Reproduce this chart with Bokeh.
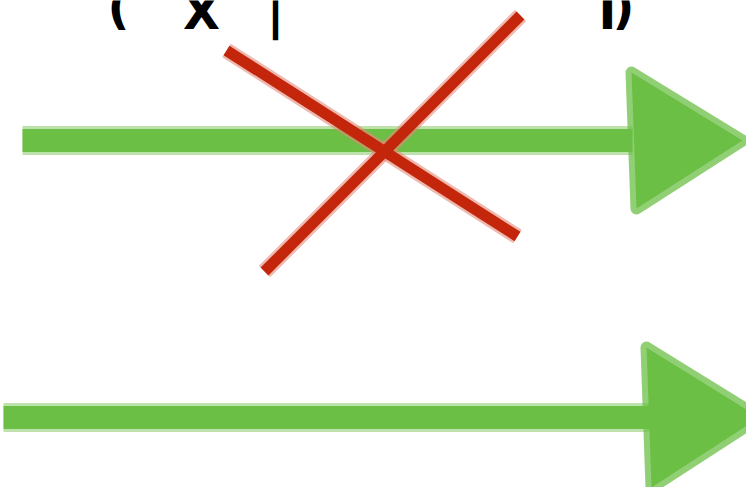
from bokeh.plotting import figure
from bokeh.models import Range1d, ColumnDataSource
from bokeh.core.properties import value
from bokeh.embed import file_html
from bokeh.resources import INLINE

# ---- data (in picture pixels) ----
arrow_x0 = [22, 3]          # shaft start
arrow_x1 = [632, 650]       # shaft end (under the head)
arrow_y = [140, 417]        # shaft height
head_left = [629, 644]      # back edge of arrowhead
head_tip = [745, 762]       # tip of arrowhead
head_half = [72, 74]        # half height of arrowhead

cross_x0 = [226, 264]
cross_y0 = [50, 271]
cross_x1 = [517, 520]
cross_y1 = [236, 15]

top_labels = ["(", "X", "|", "I", ")"]
top_x = [118, 201, 275, 607, 623]
top_y = [6, 11, 11, 11, 6]
bottom_labels = ["A"]
bottom_x = [525]
bottom_y = [524]

GREEN = "#6cbf45"
RED = "#c4260c"

p = figure(width=746, height=487, output_backend="svg", toolbar_location=None,
           x_range=Range1d(0, 746), y_range=Range1d(487, 0),
           min_border=0, min_border_left=0, min_border_right=0,
           min_border_top=0, min_border_bottom=0)
p.axis.visible = False
p.grid.visible = False
p.outline_line_color = None
p.background_fill_color = "white"
p.border_fill_color = "white"

# arrow shafts
shafts = ColumnDataSource(dict(x0=arrow_x0, x1=arrow_x1, y=arrow_y))
p.segment(x0="x0", y0="y", x1="x1", y1="y", source=shafts,
          line_color=GREEN, line_alpha=0.45, line_width=29, line_cap="butt")
p.segment(x0="x0", y0="y", x1="x1", y1="y", source=shafts,
          line_color=GREEN, line_width=23, line_cap="butt")

# arrow heads
xs, ys = [], []
for l, t, y, h in zip(head_left, head_tip, arrow_y, head_half):
    xs.append([l + 2, t - 3, l + 7])
    ys.append([y - h + 4, y, y + h - 4])
heads = ColumnDataSource(dict(xs=xs, ys=ys))
p.patches(xs="xs", ys="ys", source=heads, fill_color=GREEN,
          line_color=GREEN, line_width=12, line_join="round", line_alpha=0.75)

# red cross
cross = ColumnDataSource(dict(x0=cross_x0, y0=cross_y0, x1=cross_x1, y1=cross_y1))
p.segment(x0="x0", y0="y0", x1="x1", y1="y1", source=cross,
          line_color="#e28a7a", line_alpha=0.6, line_width=16, line_cap="butt")
p.segment(x0="x0", y0="y0", x1="x1", y1="y1", source=cross,
          line_color=RED, line_width=11, line_cap="butt")

# clipped text pieces at the top and bottom
p.text(x=top_x, y=top_y, text=top_labels, text_font=value("DejaVu Sans"),
       text_font_size="48px", text_font_style="bold", text_color="black",
       text_align="center", text_baseline="alphabetic")
p.text(x=bottom_x, y=bottom_y, text=bottom_labels, text_font=value("DejaVu Sans"),
       text_font_size="48px", text_font_style="bold", text_color="black",
       text_align="center", text_baseline="alphabetic")

open("out.html", "w").write(file_html(p, INLINE))
